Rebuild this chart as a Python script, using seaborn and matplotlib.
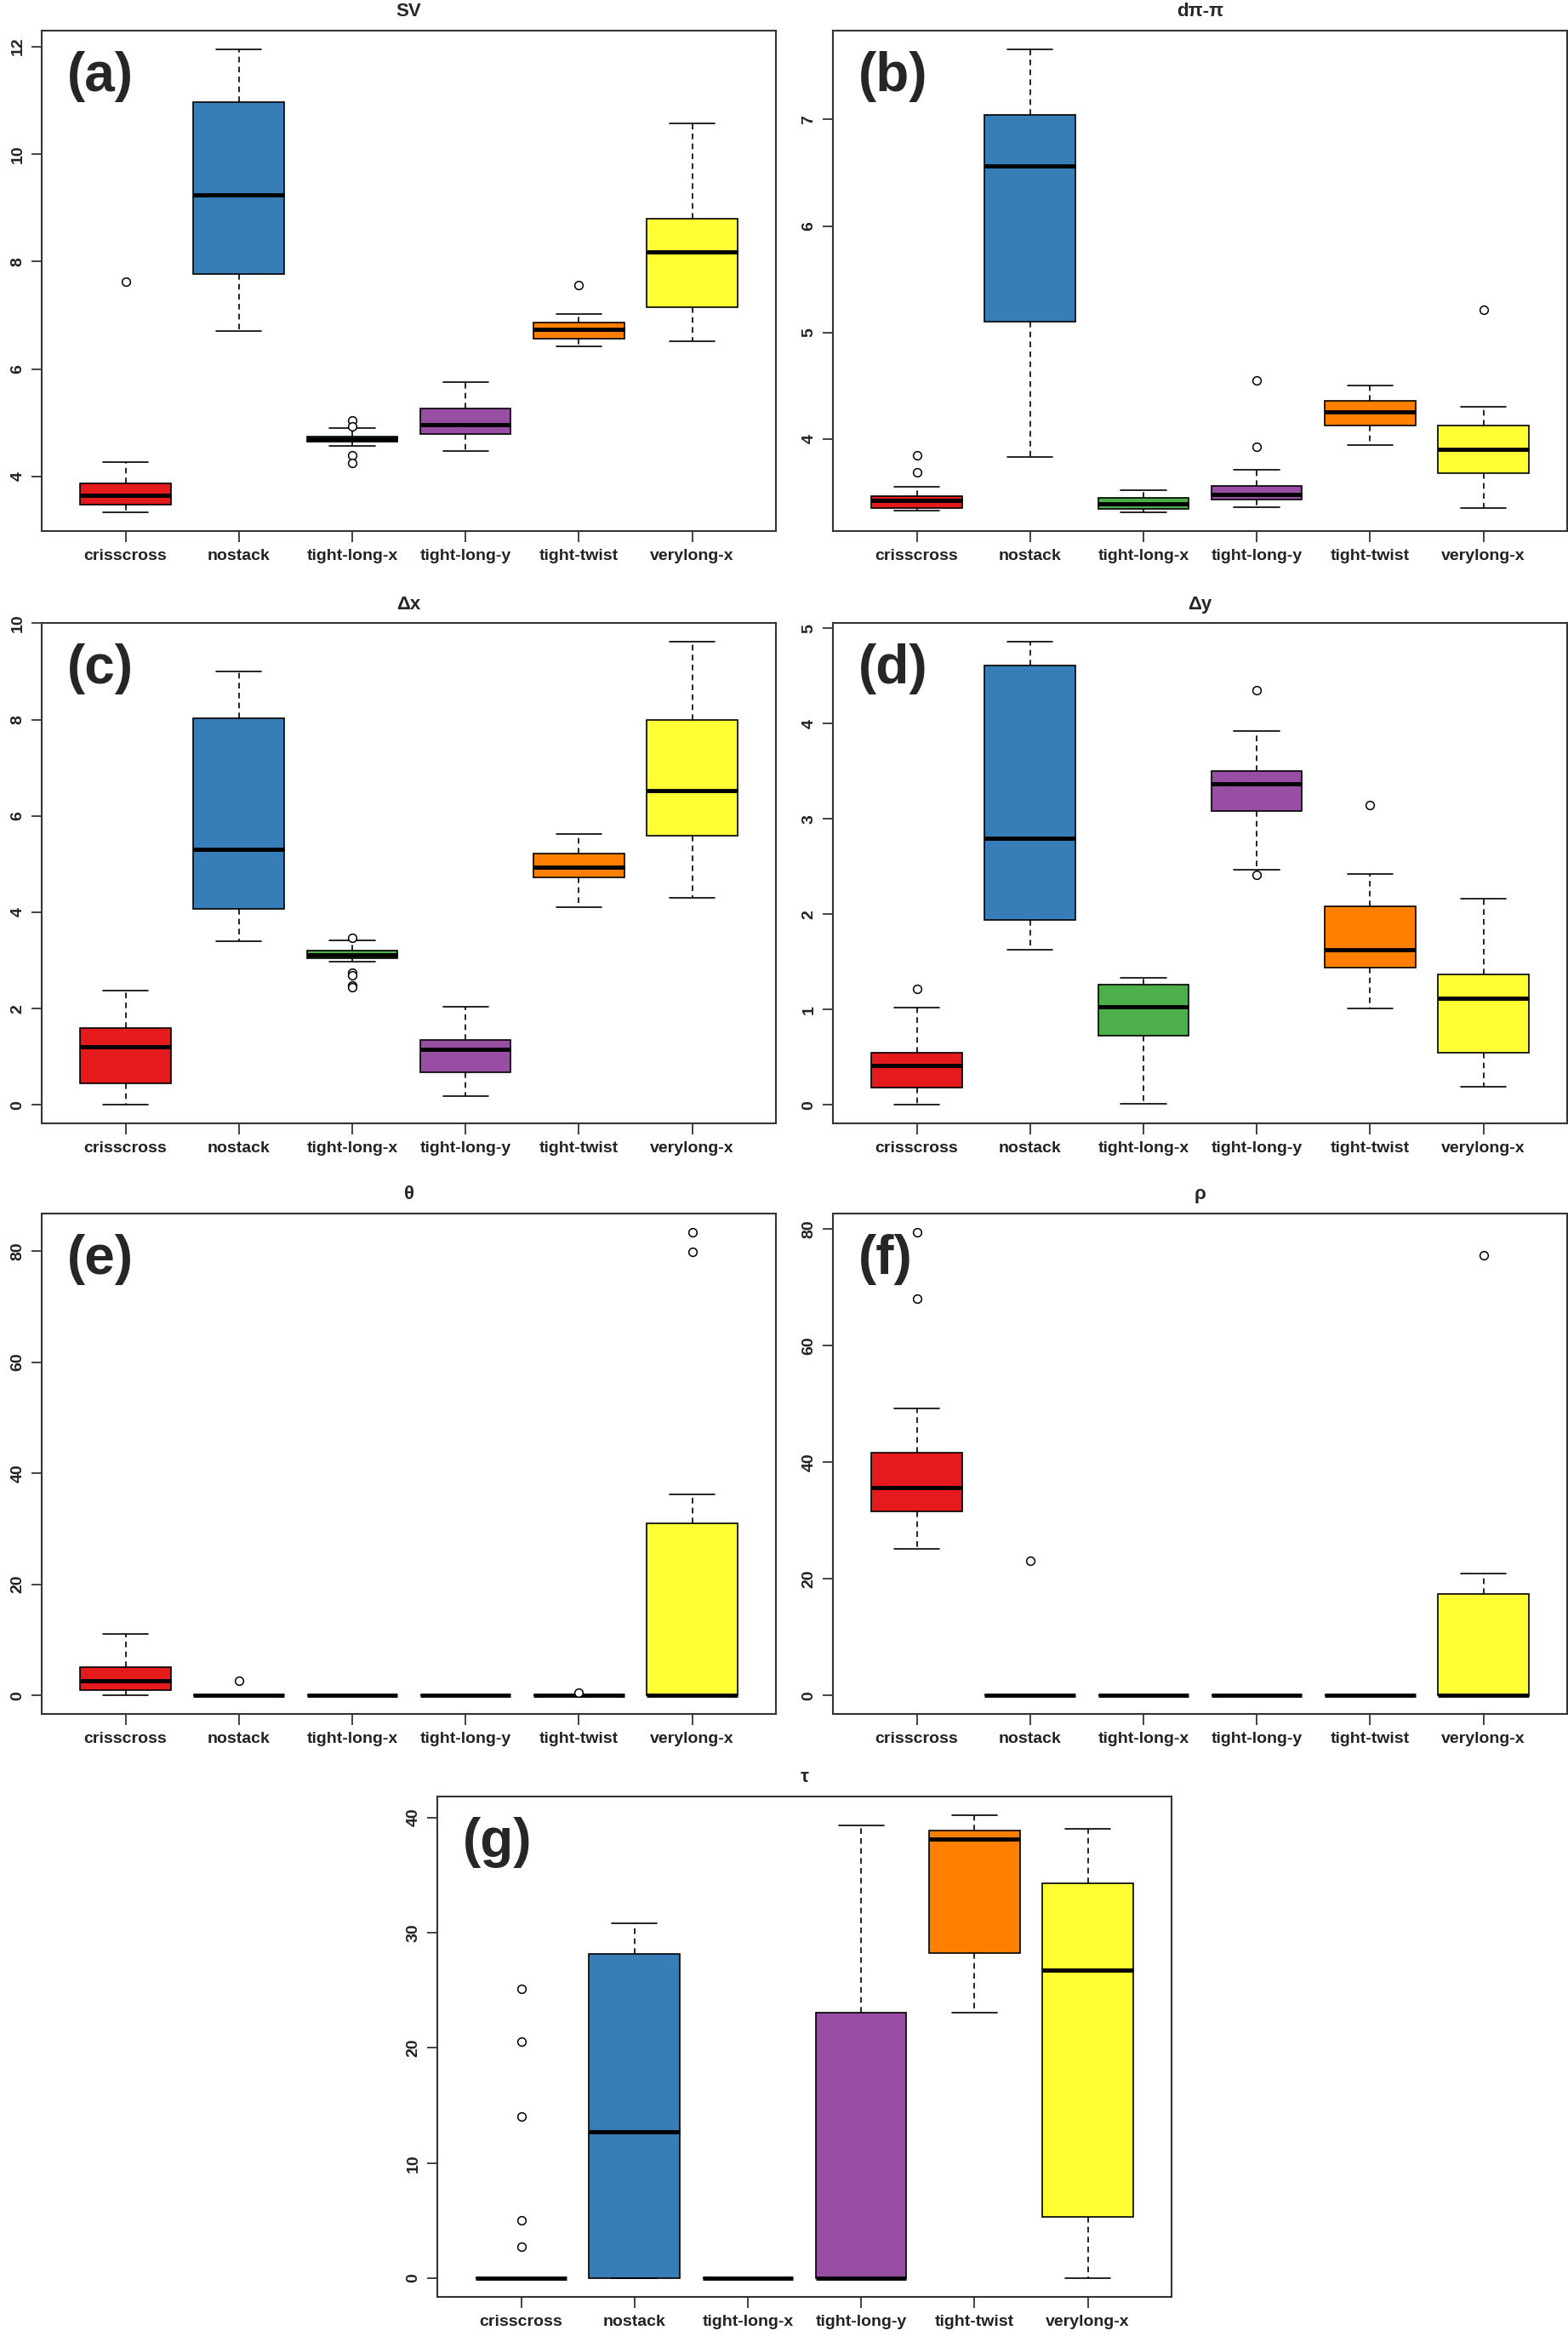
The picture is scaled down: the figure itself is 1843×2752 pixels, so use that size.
import matplotlib
matplotlib.use("Agg")
import matplotlib.pyplot as plt
import seaborn as sns
import pandas as pd

# groups and colours (R Set1)
groups = ["crisscross", "nostack", "tight-long-x", "tight-long-y", "tight-twist", "verylong-x"]
colors = ["#E41A1C", "#377EB8", "#4DAF4A", "#984EA3", "#FF7F00", "#FFFF33"]

# five-number summaries (min, Q1, median, Q3, max of whiskers) per group, plus outliers
sv_box = [[3.33, 3.47, 3.65, 3.87, 4.26], [6.70, 7.76, 9.24, 10.97, 11.95],
          [4.57, 4.64, 4.69, 4.74, 4.90], [4.47, 4.79, 4.97, 5.27, 5.76],
          [6.42, 6.56, 6.73, 6.87, 7.02], [6.51, 7.15, 8.17, 8.79, 10.57]]
sv_out = [[7.63], [], [5.04, 4.93, 4.39, 4.25], [], [7.56], []]

dpp_box = [[3.33, 3.35, 3.42, 3.46, 3.55], [3.83, 5.10, 6.56, 7.04, 7.66],
           [3.31, 3.34, 3.39, 3.45, 3.52], [3.36, 3.43, 3.48, 3.56, 3.71],
           [3.94, 4.13, 4.25, 4.36, 4.50], [3.35, 3.68, 3.90, 4.13, 4.30]]
dpp_out = [[3.69, 3.85], [], [], [3.93, 4.55], [], [5.21]]

dx_box = [[0.00, 0.45, 1.20, 1.59, 2.37], [3.40, 4.07, 5.31, 8.03, 8.99],
          [2.97, 3.05, 3.12, 3.20, 3.41], [0.19, 0.67, 1.16, 1.35, 2.04],
          [4.11, 4.73, 4.93, 5.21, 5.63], [4.30, 5.59, 6.53, 7.99, 9.61]]
dx_out = [[], [], [3.47, 2.74, 2.70, 2.48, 2.45], [], [], []]

dy_box = [[0.00, 0.18, 0.41, 0.55, 1.02], [1.63, 1.94, 2.80, 4.61, 4.86],
          [0.01, 0.73, 1.03, 1.26, 1.33], [2.47, 3.08, 3.37, 3.50, 3.92],
          [1.01, 1.44, 1.63, 2.08, 2.42], [0.19, 0.55, 1.12, 1.37, 2.16]]
dy_out = [[1.22], [], [], [2.41, 4.35], [3.15], []]

theta_box = [[0, 0.9, 2.6, 5.1, 11.0], [0, 0, 0, 0, 0], [0, 0, 0, 0, 0],
             [0, 0, 0, 0, 0], [0, 0, 0, 0, 0], [0, 0, 0, 31.0, 36.2]]
theta_out = [[], [2.6], [], [], [0.5], [79.8, 83.4]]

rho_box = [[25.1, 31.6, 35.6, 41.6, 49.3], [0, 0, 0, 0, 0], [0, 0, 0, 0, 0],
           [0, 0, 0, 0, 0], [0, 0, 0, 0, 0], [0, 0, 0, 17.4, 20.9]]
rho_out = [[68.1, 79.5], [23.1], [], [], [], [75.5]]

tau_box = [[0, 0, 0, 0, 0], [0, 0, 12.73, 28.14, 30.83], [0, 0, 0, 0, 0],
           [0, 0, 0, 23.06, 39.3], [23.03, 28.24, 38.1, 38.85, 40.2],
           [0, 5.34, 26.77, 34.3, 39.0]]
tau_out = [[2.75, 5.05, 14.07, 20.56, 25.1], [], [], [], [], []]

sns.set_theme(style="white")
plt.rcParams["font.family"] = ["Liberation Sans", "DejaVu Sans"]
plt.rcParams["font.weight"] = "bold"


def draw_panel(ax, box, out, title, letter, yticks):
    df = pd.DataFrame([(g, v) for g, vals in zip(groups, box) for v in vals],
                      columns=["group", "value"])
    sns.boxplot(data=df, x="group", y="value", hue="group", order=groups,
                hue_order=groups, palette=colors, saturation=1, width=0.8,
                whis=(0, 100), linecolor="black", linewidth=1.2, legend=False,
                showfliers=False, ax=ax,
                medianprops=dict(color="black", linewidth=3.5),
                whiskerprops=dict(linestyle=(0, (4, 3))))
    odf = pd.DataFrame([(g, v) for g, vals in zip(groups, out) for v in vals],
                       columns=["group", "value"])
    sns.stripplot(data=odf, x="group", y="value", order=groups, jitter=False,
                  color="white", edgecolor="black", linewidth=1.1, size=7,
                  ax=ax, zorder=5)

    allv = [v for vals in box + out for v in vals]
    lo, hi = min(allv), max(allv)
    pad = 0.04 * (hi - lo)
    ax.set_ylim(lo - pad, hi + pad)
    ax.set_xlim(-0.74, 5.74)
    ax.set_xlabel("")
    ax.set_ylabel("")
    ax.set_yticks(yticks)
    ax.set_yticklabels([str(t) for t in yticks])
    ax.tick_params(direction="out", length=9, width=1.2, labelsize=14,
                   bottom=True, left=True, colors="#222222")
    ax.tick_params(axis="x", pad=6)
    ax.tick_params(axis="y", pad=5)
    for lab in ax.get_yticklabels():
        lab.set_rotation(90)
        lab.set_va("center")
        lab.set_fontweight("bold")
    for lab in ax.get_xticklabels():
        lab.set_fontweight("bold")
    for sp in ax.spines.values():
        sp.set_visible(True)
        sp.set_linewidth(1.5)
        sp.set_color("#333333")
    ax.set_title(title, fontsize=16, fontweight="bold", pad=12)
    ax.text(0.035, 0.96, letter, transform=ax.transAxes, fontsize=46,
            fontweight="bold", ha="left", va="top")


fig = plt.figure(figsize=(18.43, 27.52), dpi=100)
w, h = 0.4683, 0.2136
ax_a = fig.add_axes([0.0266, 0.7733, w, h])
ax_b = fig.add_axes([0.5312, 0.7733, w, h])
ax_c = fig.add_axes([0.0266, 0.5203, w, h])
ax_d = fig.add_axes([0.5312, 0.5203, w, h])
ax_e = fig.add_axes([0.0266, 0.2682, w, h])
ax_f = fig.add_axes([0.5312, 0.2682, w, h])
ax_g = fig.add_axes([0.2789, 0.0193, w, h])

draw_panel(ax_a, sv_box, sv_out, "SV", "(a)", [4, 6, 8, 10, 12])
draw_panel(ax_b, dpp_box, dpp_out, "dπ-π", "(b)", [4, 5, 6, 7])
draw_panel(ax_c, dx_box, dx_out, "Δx", "(c)", [0, 2, 4, 6, 8, 10])
draw_panel(ax_d, dy_box, dy_out, "Δy", "(d)", [0, 1, 2, 3, 4, 5])
draw_panel(ax_e, theta_box, theta_out, "θ", "(e)", [0, 20, 40, 60, 80])
draw_panel(ax_f, rho_box, rho_out, "ρ", "(f)", [0, 20, 40, 60, 80])
draw_panel(ax_g, tau_box, tau_out, "τ", "(g)", [0, 10, 20, 30, 40])

fig.savefig("out.png", dpi=100)
